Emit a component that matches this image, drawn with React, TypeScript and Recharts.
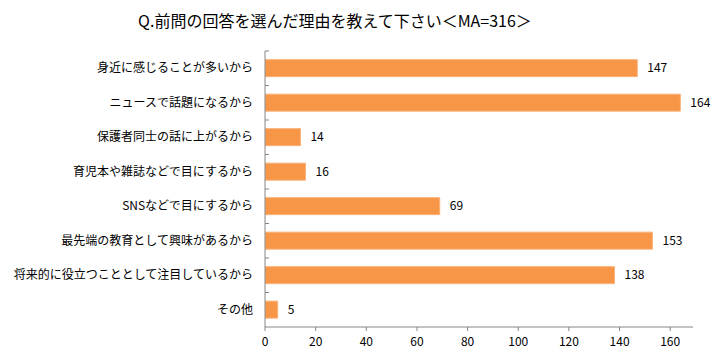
import { BarChart, Bar, XAxis, YAxis, LabelList } from "recharts"

const categories = [
  "身近に感じることが多いから",
  "ニュースで話題になるから",
  "保護者同士の話に上がるから",
  "育児本や雑誌などで目にするから",
  "SNSなどで目にするから",
  "最先端の教育として興味があるから",
  "将来的に役立つこととして注目しているから",
  "その他",
]
const counts = [147, 164, 14, 16, 69, 153, 138, 5]
const xTicks = [0, 20, 40, 60, 80, 100, 120, 140, 160]

const data = categories.map((name, i) => ({ name, count: counts[i] }))

const FONT = '"Noto Sans CJK JP", "Noto Sans", sans-serif'
const AXIS_COLOR = "#868686"
const TOP = 51
const X_AXIS_H = 30

const CategoryTick = (props: any) => {
  const { x, y, payload } = props
  const band = (357 - TOP - X_AXIS_H) / categories.length
  return (
    <g>
      <line x1={x + 8} x2={x + 12} y1={y - band / 2} y2={y - band / 2} stroke={AXIS_COLOR} />
      <text x={x - 4} y={y} dy={4} textAnchor="end" fontSize={12} fill="#000" fontFamily={FONT}>
        {payload.value}
      </text>
    </g>
  )
}

export default function App() {
  return (
    <div style={{ position: "absolute", left: 0, top: 0, width: 716, height: 357, background: "#fff" }}>
      <div
        style={{
          position: "absolute",
          top: 8,
          left: 0,
          width: 670,
          textAlign: "center",
          fontFamily: FONT,
          fontSize: 16,
          color: "#000",
        }}
      >
        Q.前問の回答を選んだ理由を教えて下さい＜MA=316＞
      </div>
      <BarChart
        width={716}
        height={357}
        data={data}
        layout="vertical"
        margin={{ top: TOP, right: 23, bottom: 0, left: 0 }}
        barCategoryGap="25%"
      >
        <XAxis
          type="number"
          domain={[0, 169]}
          ticks={xTicks}
          allowDataOverflow
          tickLine={{ stroke: AXIS_COLOR }}
          axisLine={{ stroke: AXIS_COLOR }}
          tickSize={4}
          tickMargin={6}
          tick={{ fontSize: 12, fill: "#000", fontFamily: FONT }}
          height={X_AXIS_H}
        />
        <YAxis
          type="category"
          dataKey="name"
          width={265}
          axisLine={{ stroke: AXIS_COLOR }}
          tickLine={false}
          tick={<CategoryTick />}
          interval={0}
        />
        <Bar dataKey="count" fill="#F79646" stroke="#FAB27A" strokeWidth={1} isAnimationActive={false}>
          <LabelList dataKey="count" position="right" offset={10} fontSize={12} fill="#000" fontFamily={FONT} />
        </Bar>
      </BarChart>
    </div>
  )
}
